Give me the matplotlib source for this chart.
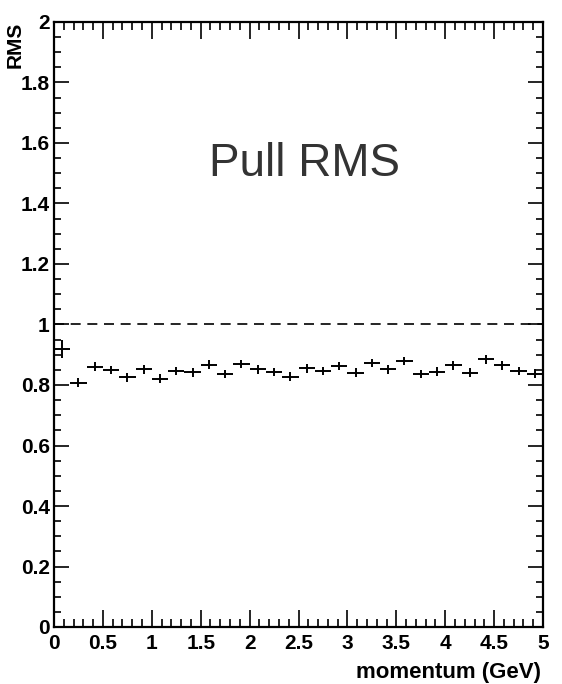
import numpy as np
import matplotlib
matplotlib.use("Agg")
import matplotlib.pyplot as plt
from matplotlib.ticker import MultipleLocator

# Data: 30 momentum bins from 0 to 5 GeV
bin_edges_lo = 0.0
bin_edges_hi = 5.0
n_bins = 30
rms = [0.918, 0.808, 0.861, 0.850, 0.825, 0.852, 0.821, 0.847, 0.842, 0.867,
       0.836, 0.869, 0.852, 0.843, 0.828, 0.855, 0.847, 0.863, 0.841, 0.872,
       0.852, 0.880, 0.836, 0.844, 0.865, 0.841, 0.885, 0.865, 0.847, 0.838]
rms_err = [0.030, 0.014, 0.014, 0.014, 0.014, 0.014, 0.014, 0.014, 0.014, 0.014,
           0.014, 0.014, 0.014, 0.014, 0.014, 0.014, 0.014, 0.014, 0.014, 0.014,
           0.014, 0.014, 0.014, 0.014, 0.014, 0.014, 0.014, 0.014, 0.014, 0.014]
reference_level = 1.0
x_ticks = [0, 0.5, 1, 1.5, 2, 2.5, 3, 3.5, 4, 4.5, 5]
x_tick_labels = ["0", "0.5", "1", "1.5", "2", "2.5", "3", "3.5", "4", "4.5", "5"]
y_ticks = [0, 0.2, 0.4, 0.6, 0.8, 1, 1.2, 1.4, 1.6, 1.8, 2]
y_tick_labels = ["0", "0.2", "0.4", "0.6", "0.8", "1", "1.2", "1.4", "1.6", "1.8", "2"]

edges = np.linspace(bin_edges_lo, bin_edges_hi, n_bins + 1)
centers = 0.5 * (edges[:-1] + edges[1:])
half_w = 0.5 * (edges[1] - edges[0])

plt.rcParams['font.family'] = ['Liberation Sans', 'DejaVu Sans']

fig = plt.figure(figsize=(5.62, 6.84), dpi=100)
ax = fig.add_axes([54/562, 1 - 627/684, (543 - 54)/562, (627 - 22)/684])

ax.errorbar(centers, rms, xerr=half_w, yerr=rms_err, fmt='none',
            ecolor='black', elinewidth=1.4, capsize=0)
ax.axhline(reference_level, color='black', lw=1.2, ls=(0, (6, 4)))

ax.set_xlim(0, 5)
ax.set_ylim(0, 2)
ax.set_xticks(x_ticks)
ax.set_xticklabels(x_tick_labels)
ax.set_yticks(y_ticks)
ax.set_yticklabels(y_tick_labels)
ax.xaxis.set_minor_locator(MultipleLocator(0.1))
ax.yaxis.set_minor_locator(MultipleLocator(0.05))

for s in ax.spines.values():
    s.set_linewidth(1.6)
    s.set_color('black')

ax.tick_params(axis='x', which='both', direction='in', top=True, bottom=True,
               width=1.2, labelsize=15, pad=5)
ax.tick_params(axis='x', which='major', length=12)
ax.tick_params(axis='x', which='minor', length=6)
ax.tick_params(axis='y', which='both', direction='in', left=True, right=True,
               width=1.2, labelsize=15, pad=3)
ax.tick_params(axis='y', which='major', length=10.5)
ax.tick_params(axis='y', which='minor', length=5)
for lab in ax.get_xticklabels() + ax.get_yticklabels():
    lab.set_fontweight('bold')

ax.text(0.513, 0.765, "Pull RMS", transform=ax.transAxes, ha='center', va='center',
        fontsize=33, color='#333333')

fig.text(15/562, 1 - 22/684, "RMS", rotation=90, ha='center', va='top',
         fontsize=15, fontweight='bold')
fig.text(541/562, 1/684, "momentum (GeV)", ha='right', va='bottom',
         fontsize=16, fontweight='bold')

fig.savefig("out.png", dpi=100)
